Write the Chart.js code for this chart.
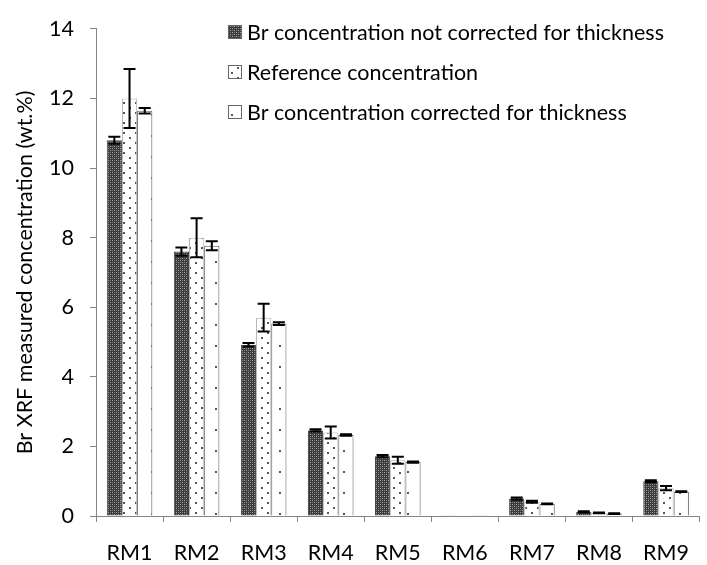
<!DOCTYPE html>
<html>
<head>
<meta charset="utf-8">
<script src="https://cdn.jsdelivr.net/npm/chart.js@4.4.1/dist/chart.umd.min.js"></script>
<style>
  html, body { margin: 0; padding: 0; background: #fff; }
  #wrap { width: 707px; height: 565px; }
</style>
</head>
<body>
<div id="wrap"><canvas id="chart" width="707" height="565"></canvas></div>
<script>
const categories = ['RM1', 'RM2', 'RM3', 'RM4', 'RM5', 'RM6', 'RM7', 'RM8', 'RM9'];
const seriesNames = [
    'Br concentration not corrected for thickness',
    'Reference concentration',
    'Br concentration corrected for thickness'
];
const notCorrected = [10.8, 7.6, 4.92, 2.46, 1.72, 0.01, 0.5, 0.12, 1.0];
const notCorrectedErr = [0.1, 0.12, 0.05, 0.03, 0.03, 0.0, 0.03, 0.02, 0.03];
const reference = [12.0, 8.0, 5.7, 2.4, 1.6, 0.01, 0.41, 0.09, 0.8];
const referenceErr = [0.85, 0.56, 0.4, 0.17, 0.1, 0.0, 0.03, 0.01, 0.06];
const corrected = [11.65, 7.77, 5.53, 2.33, 1.55, 0.01, 0.35, 0.07, 0.7];
const correctedErr = [0.08, 0.13, 0.04, 0.02, 0.02, 0.0, 0.01, 0.01, 0.01];
const yTicks = [0, 2, 4, 6, 8, 10, 12, 14];

const FONT = 'Lato, "Open Sans", sans-serif';
const FONT_SIZE = 21.5;

function makePattern(w, h, draw) {
    const c = document.createElement('canvas');
    c.width = w;
    c.height = h;
    const g = c.getContext('2d');
    draw(g);
    return c.getContext('2d').createPattern(c, 'repeat');
}

// dark fine checker
const checkPattern = makePattern(4, 4, g => {
    g.fillStyle = '#3c3c3c';
    g.fillRect(0, 0, 4, 4);
    g.fillStyle = '#a8a8a8';
    g.fillRect(0, 0, 1, 1);
    g.fillRect(2, 2, 1, 1);
    g.fillStyle = '#777';
    g.fillRect(2, 0, 1, 1);
    g.fillRect(0, 2, 1, 1);
});

// white with staggered dots
const dotPattern = makePattern(12, 10, g => {
    g.fillStyle = '#fff';
    g.fillRect(0, 0, 12, 10);
    g.fillStyle = '#555';
    g.fillRect(3, 2, 2, 2);
    g.fillRect(9, 7, 2, 2);
});

// white with sparse dots
const sparsePattern = makePattern(16, 21, g => {
    g.fillStyle = '#fff';
    g.fillRect(0, 0, 16, 21);
    g.fillStyle = '#555';
    g.fillRect(7, 9, 2, 2);
});

const fills = [checkPattern, dotPattern, sparsePattern];
const borders = ['#444', '#b0b0b0', '#555'];
const errors = [notCorrectedErr, referenceErr, correctedErr];

const errorBars = {
    id: 'errorBars',
    afterDatasetsDraw(chart) {
        const ctx = chart.ctx;
        const y = chart.scales.y;
        ctx.save();
        ctx.strokeStyle = '#000';
        ctx.lineWidth = 2;
        chart.data.datasets.forEach((ds, i) => {
            const meta = chart.getDatasetMeta(i);
            meta.data.forEach((bar, j) => {
                const v = ds.data[j];
                const e = errors[i][j];
                if (!e) return;
                const top = y.getPixelForValue(v + e);
                const bot = y.getPixelForValue(v - e);
                const half = 6;
                ctx.beginPath();
                ctx.moveTo(bar.x, top);
                ctx.lineTo(bar.x, bot);
                ctx.moveTo(bar.x - half, top);
                ctx.lineTo(bar.x + half, top);
                ctx.moveTo(bar.x - half, bot);
                ctx.lineTo(bar.x + half, bot);
                ctx.stroke();
            });
        });
        ctx.restore();
    }
};

const boxLegend = {
    id: 'boxLegend',
    afterDraw(chart) {
        const ctx = chart.ctx;
        ctx.save();
        ctx.font = FONT_SIZE + 'px ' + FONT;
        ctx.textBaseline = 'middle';
        ctx.textAlign = 'left';
        seriesNames.forEach((name, i) => {
            const cy = 32 + i * 40;
            ctx.fillStyle = fills[i];
            ctx.fillRect(228, cy - 7, 14, 14);
            ctx.strokeStyle = '#666';
            ctx.lineWidth = 1;
            ctx.strokeRect(228.5, cy - 6.5, 13, 13);
            ctx.fillStyle = '#000';
            ctx.fillText(name, 247, cy + 1);
        });
        ctx.restore();
    }
};

const datasets = [notCorrected, reference, corrected].map((vals, i) => ({
    label: seriesNames[i],
    data: vals,
    backgroundColor: fills[i],
    borderColor: borders[i],
    borderWidth: 1,
    borderSkipped: 'bottom'
}));

new Chart(document.getElementById('chart').getContext('2d'), {
    type: 'bar',
    data: { labels: categories, datasets },
    options: {
        responsive: false,
        animation: false,
        devicePixelRatio: 1,
        layout: { padding: { top: 19, right: 0, left: 0, bottom: 0 } },
        datasets: { bar: { categoryPercentage: 0.68, barPercentage: 1.0 } },
        plugins: {
            legend: { display: false },
            tooltip: { enabled: false }
        },
        scales: {
            x: {
                afterFit: s => { s.height = 49; },
                grid: {
                    offset: true,
                    drawOnChartArea: false,
                    drawTicks: true,
                    tickLength: 6,
                    color: '#868686'
                },
                border: { color: '#868686', width: 1 },
                ticks: {
                    color: '#000',
                    font: { family: FONT, size: FONT_SIZE },
                    padding: 18
                }
            },
            y: {
                min: 0,
                max: 14,
                afterFit: s => { s.width = 96; },
                afterBuildTicks: s => { s.ticks = yTicks.map(v => ({ value: v })); },
                grid: {
                    drawOnChartArea: false,
                    drawTicks: true,
                    tickLength: 6,
                    color: '#868686'
                },
                border: { color: '#868686', width: 1 },
                ticks: {
                    color: '#000',
                    font: { family: FONT, size: FONT_SIZE },
                    padding: 16
                },
                title: {
                    display: true,
                    text: 'Br XRF measured concentration (wt.%)',
                    color: '#000',
                    font: { family: FONT, size: FONT_SIZE },
                    padding: { top: 12, bottom: 4 }
                }
            }
        }
    },
    plugins: [errorBars, boxLegend]
});
</script>
</body>
</html>
